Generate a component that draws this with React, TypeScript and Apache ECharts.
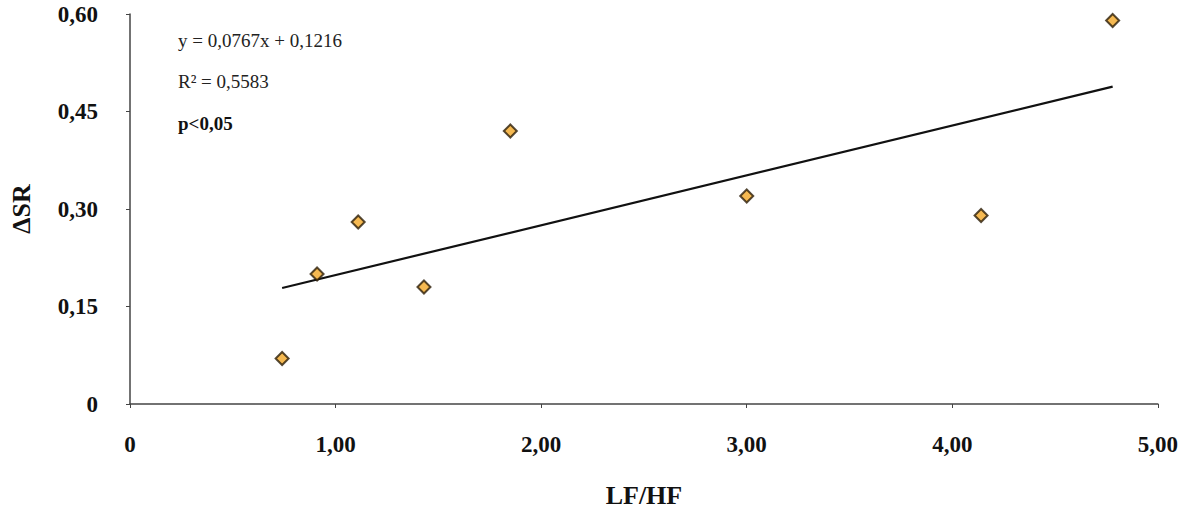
import React, { useEffect, useRef } from "react";
import * as echarts from "echarts";

const xValues = [0.74, 0.91, 1.11, 1.43, 1.85, 3.0, 4.14, 4.78];
const yValues = [0.07, 0.2, 0.28, 0.18, 0.42, 0.32, 0.29, 0.59];
const trendLine = [
  [0.74, 0.1784],
  [4.78, 0.4882],
];
const equationText = "y = 0,0767x + 0,1216";
const r2Text = "R² = 0,5583";
const pText = "p<0,05";
const xName = "LF/HF";
const yName = "ΔSR";

const fmt = (v: number) => (v === 0 ? "0" : v.toFixed(2).replace(".", ","));

export default function App() {
  const ref = useRef<HTMLDivElement>(null);
  useEffect(() => {
    document.body.style.margin = "0";
    const chart = echarts.init(ref.current!, null, { renderer: "svg" });
    const font = "'Liberation Serif', 'DejaVu Serif', serif";
    chart.setOption({
      animation: false,
      backgroundColor: "#ffffff",
      grid: { left: 129.5, right: 22.7, top: 14, bottom: 107.3 },
      xAxis: {
        type: "value",
        min: 0,
        max: 5,
        interval: 1,
        name: xName,
        nameLocation: "middle",
        nameGap: 78,
        nameTextStyle: { fontFamily: font, fontWeight: "bold", fontSize: 26, color: "#111" },
        axisLine: { show: true, lineStyle: { color: "#444", width: 1.5 } },
        axisTick: { show: true, length: 4, lineStyle: { color: "#444" } },
        splitLine: { show: false },
        axisLabel: {
          formatter: fmt,
          margin: 29,
          fontFamily: font,
          fontWeight: "bold",
          fontSize: 23,
          color: "#111",
        },
      },
      yAxis: {
        type: "value",
        min: 0,
        max: 0.6,
        interval: 0.15,
        name: yName,
        nameLocation: "middle",
        nameRotate: 90,
        nameGap: 96,
        nameTextStyle: { fontFamily: font, fontWeight: "bold", fontSize: 26, color: "#111" },
        axisLine: { show: true, lineStyle: { color: "#444", width: 1.5 } },
        axisTick: { show: true, length: 4, lineStyle: { color: "#444" } },
        splitLine: { show: false },
        axisLabel: {
          formatter: fmt,
          margin: 32,
          fontFamily: font,
          fontWeight: "bold",
          fontSize: 23,
          color: "#111",
        },
      },
      graphic: [
        {
          type: "text",
          left: 178,
          top: 31,
          style: { text: equationText, font: `19px ${font}`, fill: "#222" },
        },
        {
          type: "text",
          left: 178,
          top: 72,
          style: { text: r2Text, font: `19px ${font}`, fill: "#222" },
        },
        {
          type: "text",
          left: 178,
          top: 114,
          style: { text: pText, font: `bold 19px ${font}`, fill: "#111" },
        },
      ],
      series: [
        {
          type: "line",
          data: trendLine,
          showSymbol: false,
          symbol: "none",
          lineStyle: { color: "#111", width: 2.2 },
          z: 2,
        },
        {
          type: "scatter",
          data: xValues.map((x, i) => [x, yValues[i]]),
          symbol: "diamond",
          symbolSize: 13,
          itemStyle: { color: "#F2A827", borderColor: "#2a1d08", borderWidth: 2 },
          z: 3,
        },
      ],
    });
    return () => chart.dispose();
  }, []);
  return <div ref={ref} style={{ width: 1181, height: 513 }} />;
}
